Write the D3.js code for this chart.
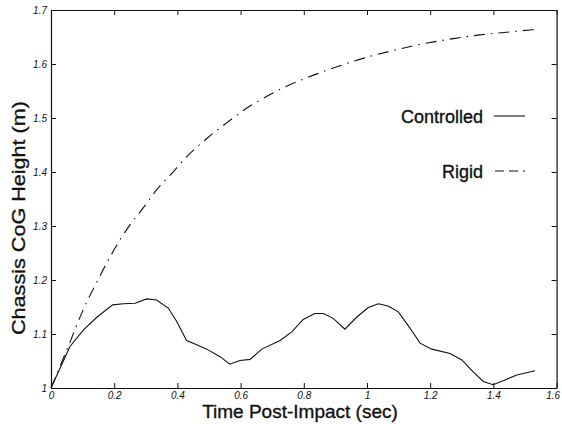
<!DOCTYPE html>
<html>
<head>
<meta charset="utf-8">
<script src="https://cdn.jsdelivr.net/npm/d3@7"></script>
<style>
  html, body { margin: 0; padding: 0; background: #fff; }
  svg { display: block; }
</style>
</head>
<body>
<script>
// ---- Data ----
const controlledTime = [0, 0.06, 0.102, 0.145, 0.195, 0.229, 0.266, 0.303, 0.334, 0.371, 0.398, 0.429, 0.461, 0.493, 0.535, 0.566, 0.598, 0.630, 0.667, 0.725, 0.762, 0.798, 0.835, 0.862, 0.893, 0.930, 0.967, 1.004, 1.036, 1.067, 1.099, 1.136, 1.168, 1.205, 1.263, 1.300, 1.336, 1.368, 1.399, 1.437, 1.474, 1.532];
const controlledHeight = [1.0, 1.077, 1.107, 1.131, 1.154, 1.156, 1.157, 1.165, 1.163, 1.148, 1.123, 1.088, 1.080, 1.072, 1.058, 1.044, 1.051, 1.053, 1.072, 1.088, 1.104, 1.127, 1.138, 1.138, 1.129, 1.109, 1.131, 1.149, 1.156, 1.152, 1.141, 1.111, 1.083, 1.072, 1.064, 1.052, 1.030, 1.012, 1.006, 1.015, 1.024, 1.032];
const rigidTime = [0, 0.03, 0.06, 0.102, 0.118, 0.150, 0.187, 0.218, 0.25, 0.303, 0.334, 0.377, 0.429, 0.493, 0.556, 0.619, 0.661, 0.735, 0.798, 0.862, 0.936, 1.009, 1.083, 1.157, 1.220, 1.273, 1.358, 1.426, 1.516, 1.535];
const rigidHeight = [1.0, 1.042, 1.085, 1.145, 1.165, 1.202, 1.243, 1.274, 1.302, 1.342, 1.367, 1.394, 1.428, 1.462, 1.491, 1.518, 1.533, 1.556, 1.572, 1.586, 1.601, 1.614, 1.625, 1.635, 1.642, 1.647, 1.654, 1.658, 1.663, 1.664];
const xTicks = [0, 0.2, 0.4, 0.6, 0.8, 1, 1.2, 1.4, 1.6];
const xTickLabels = ["0", "0.2", "0.4", "0.6", "0.8", "1", "1.2", "1.4", "1.6"];
const yTicks = [1, 1.1, 1.2, 1.3, 1.4, 1.5, 1.6, 1.7];
const yTickLabels = ["1", "1.1", "1.2", "1.3", "1.4", "1.5", "1.6", "1.7"];
const seriesNames = ["Controlled", "Rigid"];
const xTitle = "Time Post-Impact (sec)";
const yTitle = "Chassis CoG Height (m)";

// ---- Layout ----
const W = 562, H = 424;
const L = 51, R = 556.6, T = 10, B = 388;

const svg = d3.select("body").append("svg").attr("width", W).attr("height", H)
  .style("font-family", "'Liberation Sans', Arial, sans-serif");
svg.append("rect").attr("width", W).attr("height", H).attr("fill", "#fff");

const x = d3.scaleLinear().domain([0, 1.6]).range([L, R]);
const y = d3.scaleLinear().domain([1, 1.7]).range([B, T]);

const ink = "#111";

const fmtX = (d, i) => xTickLabels[i];
const fmtY = (d, i) => yTickLabels[i];

const gx = svg.append("g").attr("transform", `translate(0,${B})`)
  .call(d3.axisBottom(x).tickValues(xTicks).tickFormat(fmtX).tickSizeInner(-5).tickSizeOuter(0).tickPadding(5));
const gy = svg.append("g").attr("transform", `translate(${L},0)`)
  .call(d3.axisLeft(y).tickValues(yTicks).tickFormat(fmtY).tickSizeInner(-5).tickSizeOuter(0).tickPadding(4));
const gxt = svg.append("g").attr("transform", `translate(0,${T})`)
  .call(d3.axisTop(x).tickValues(xTicks).tickFormat("").tickSizeInner(-5).tickSizeOuter(0));
const gyr = svg.append("g").attr("transform", `translate(${R},0)`)
  .call(d3.axisRight(y).tickValues(yTicks).tickFormat("").tickSizeInner(-5).tickSizeOuter(0));

[gx, gy, gxt, gyr].forEach(g => {
  g.selectAll("path.domain").attr("stroke", ink).attr("stroke-width", 1.2);
  g.selectAll(".tick line").attr("stroke", ink).attr("stroke-width", 1);
  g.selectAll("text").attr("fill", ink).style("font-size", "10px").style("font-style", "italic")
    .style("font-family", "'Liberation Sans', Arial, sans-serif");
});
gx.selectAll("text").attr("dy", "0.55em");
gx.selectAll("text").filter((d, i) => i === xTicks.length - 1).attr("dx", "-4");
gy.selectAll("text").attr("dy", "0.3em");

// Lines
const ctrl = controlledTime.map((t, i) => [t, controlledHeight[i]]);
const rig = rigidTime.map((t, i) => [t, rigidHeight[i]]);

svg.append("path").datum(rig)
  .attr("d", d3.line().x(d => x(d[0])).y(d => y(d[1])).curve(d3.curveMonotoneX))
  .attr("fill", "none").attr("stroke", ink).attr("stroke-width", 1.1)
  .attr("stroke-dasharray", "11,6,1.5,6");

svg.append("path").datum(ctrl)
  .attr("d", d3.line().x(d => x(d[0])).y(d => y(d[1])))
  .attr("fill", "none").attr("stroke", ink).attr("stroke-width", 1.1);

// Legend
const leg = svg.append("g");
leg.append("text").attr("x", 483).attr("y", 123).attr("text-anchor", "end")
  .style("font-size", "18px").attr("fill", ink).attr("stroke", ink).attr("stroke-width", 0.35)
  .text(seriesNames[0]);
leg.append("line").attr("x1", 494).attr("x2", 525).attr("y1", 116).attr("y2", 116)
  .attr("stroke", ink).attr("stroke-width", 1.1);
leg.append("text").attr("x", 483).attr("y", 178).attr("text-anchor", "end")
  .style("font-size", "18px").attr("fill", ink).attr("stroke", ink).attr("stroke-width", 0.35)
  .text(seriesNames[1]);
leg.append("line").attr("x1", 495).attr("x2", 525).attr("y1", 171).attr("y2", 171)
  .attr("stroke", ink).attr("stroke-width", 1.1).attr("stroke-dasharray", "9,5");

// Axis titles
svg.append("text").attr("x", 300).attr("y", 418).attr("text-anchor", "middle")
  .style("font-size", "19px").attr("fill", ink).attr("stroke", ink).attr("stroke-width", 0.35)
  .text(xTitle);
svg.append("text").attr("transform", "translate(25,218) rotate(-90)").attr("text-anchor", "middle")
  .style("font-size", "19px").attr("fill", ink).attr("stroke", ink).attr("stroke-width", 0.35)
  .attr("textLength", 234).attr("lengthAdjust", "spacingAndGlyphs")
  .text(yTitle);
</script>
</body>
</html>
